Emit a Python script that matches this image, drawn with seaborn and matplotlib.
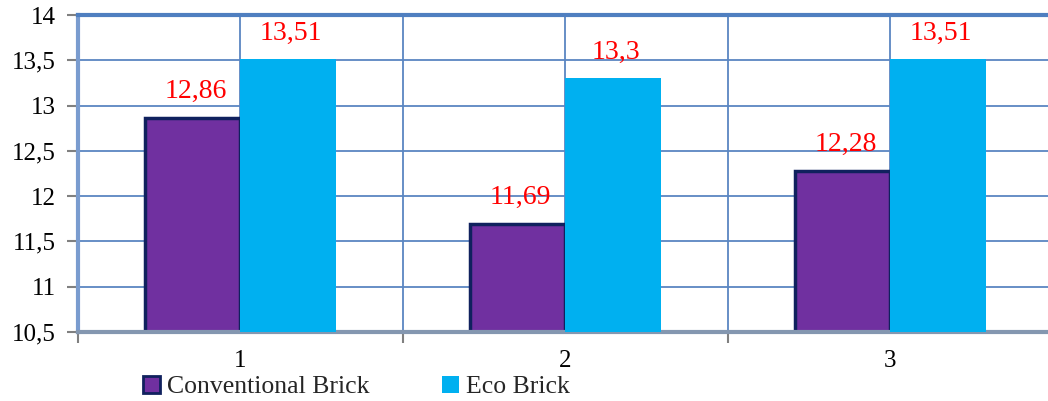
import numpy as np
import pandas as pd
import matplotlib
matplotlib.use("Agg")
import matplotlib.pyplot as plt
from matplotlib.patches import Patch
from matplotlib.ticker import FuncFormatter, MultipleLocator, FixedLocator
import seaborn as sns

groups = ["1", "2", "3"]
conventional = [12.86, 11.69, 12.28]
eco = [13.51, 13.3, 13.51]
series_names = ["Conventional Brick", "Eco Brick"]

PURPLE = "#7030A0"
NAVY = "#10215E"
CYAN = "#00B0F0"
GRID = "#5A86C2"


def comma(v, _pos=None):
    s = f"{v:g}"
    return s.replace(".", ",")


df = pd.DataFrame({
    "group": groups * 2,
    "value": conventional + eco,
    "brick": [series_names[0]] * len(groups) + [series_names[1]] * len(groups),
})

sns.set_theme(style="white")
plt.rcParams["font.family"] = ["Liberation Serif", "DejaVu Serif"]

fig = plt.figure(figsize=(10.48, 4.01), dpi=100)
ax = fig.add_axes([78 / 1048, 69 / 401, 975 / 1048, 317 / 401])

sns.barplot(data=df, x="group", y="value", hue="brick", palette=[PURPLE, CYAN],
            width=0.585, saturation=1, legend=False, ax=ax)

for p in ax.containers[0]:
    p.set_edgecolor(NAVY)
    p.set_linewidth(2.5)
    p.set_zorder(2)
for p in ax.containers[1]:
    p.set_linewidth(0)
    p.set_zorder(3)

for cont in ax.containers:
    for p in cont:
        h = p.get_height()
        ax.annotate(comma(round(h, 2)), (p.get_x() + p.get_width() / 2, h),
                    xytext=(2, 10), textcoords="offset points", ha="center", va="bottom",
                    color="red", fontsize=20, zorder=5)

ax.set_ylim(10.5, 14)
ax.set_xlim(-0.5, 2.5)
ax.yaxis.set_major_locator(MultipleLocator(0.5))
ax.yaxis.set_major_formatter(FuncFormatter(comma))
ax.xaxis.set_minor_locator(FixedLocator([-0.5, 0.5, 1.5, 2.5]))

ax.set_axisbelow(True)
ax.grid(True, which="major", axis="both", color=GRID, linewidth=1.3)
ax.grid(True, which="minor", axis="x", color=GRID, linewidth=1.3)

ax.tick_params(axis="y", which="major", left=True, length=8, width=1.5, color="#808080",
               labelsize=18, pad=8, labelcolor="black")
ax.tick_params(axis="x", which="major", bottom=False, labelsize=18, pad=7, labelcolor="black")
ax.tick_params(axis="x", which="minor", bottom=True, length=8, width=1.5, color="#808080")
ax.set_xlabel("")
ax.set_ylabel("")

ax.spines["top"].set_color("#4F7FC0")
ax.spines["top"].set_linewidth(3)
ax.spines["left"].set_color("#7A9CCF")
ax.spines["left"].set_linewidth(3)
ax.spines["bottom"].set_color("#8497B0")
ax.spines["bottom"].set_linewidth(3)
ax.spines["right"].set_visible(False)

handles = [
    Patch(facecolor=PURPLE, edgecolor=NAVY, linewidth=2),
    Patch(facecolor=CYAN, edgecolor=CYAN, linewidth=0),
]
fig.legend(handles, series_names, loc="center left", bbox_to_anchor=(143 / 1048, 14 / 401),
           ncol=2, frameon=False, borderpad=0, borderaxespad=0, handlelength=0.65,
           handleheight=0.65, handletextpad=0.3, columnspacing=2.8,
           prop={"family": "Liberation Serif", "size": 18.5})

fig.savefig("out.png", dpi=100)
